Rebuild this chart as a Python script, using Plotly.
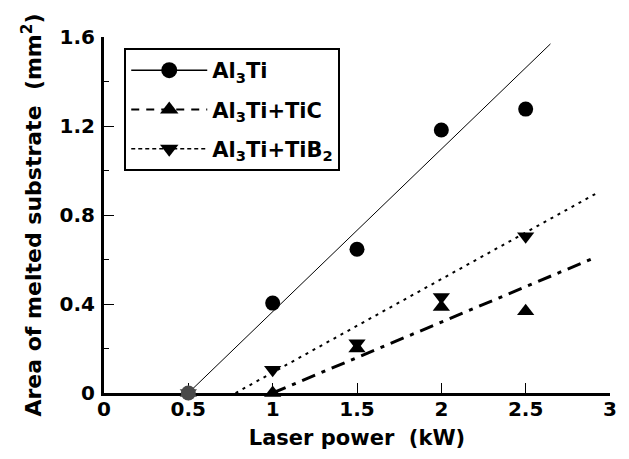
import plotly.graph_objects as go

# ---- data ----
power = [0.5, 1.0, 1.5, 2.0, 2.5]                 # kW
al3ti = [0.0, 0.404, 0.646, 1.182, 1.276]         # mm^2
al3ti_tic = [0.0, 0.0, 0.20, 0.387, 0.367]
al3ti_tib2 = [0.0, 0.105, 0.224, 0.431, 0.705]

# fitted trend lines (end points)
fit_al3ti_x = [0.5, 2.647]
fit_al3ti_y = [0.0, 1.569]
fit_tic_x = [1.0, 2.921]
fit_tic_y = [0.0, 0.612]
fit_tib2_x = [0.78, 2.921]
fit_tib2_y = [0.0, 0.898]

names = ["Al<sub>3</sub>Ti", "Al<sub>3</sub>Ti+TiC", "Al<sub>3</sub>Ti+TiB<sub>2</sub>"]
x_ticks = [0, 0.5, 1, 1.5, 2, 2.5, 3]
y_ticks = [0, 0.4, 0.8, 1.2, 1.6]

FONT = "DejaVu Sans"
fig = go.Figure()

first_gray = ["#4a4a4a", "black", "black", "black", "black"]

# fit lines
fig.add_trace(go.Scatter(x=fit_al3ti_x, y=fit_al3ti_y, mode="lines",
                         line=dict(color="black", width=1), showlegend=False, cliponaxis=False))
fig.add_trace(go.Scatter(x=fit_tic_x, y=fit_tic_y, mode="lines",
                         line=dict(color="black", width=3, dash="14px,7px,4px,7px"),
                         showlegend=False, cliponaxis=False))
fig.add_trace(go.Scatter(x=fit_tib2_x, y=fit_tib2_y, mode="lines",
                         line=dict(color="black", width=2, dash="3px,5px"),
                         showlegend=False, cliponaxis=False))

# data markers
fig.add_trace(go.Scatter(x=power, y=al3ti, mode="markers", showlegend=False, cliponaxis=False,
                         marker=dict(symbol="circle", size=15, color=first_gray)))
fig.add_trace(go.Scatter(x=power, y=al3ti_tic, mode="markers", showlegend=False, cliponaxis=False,
                         marker=dict(symbol="triangle-up", size=15, color=first_gray)))
fig.add_trace(go.Scatter(x=power, y=al3ti_tib2, mode="markers", showlegend=False, cliponaxis=False,
                         marker=dict(symbol="triangle-down", size=15, color=first_gray)))

# legend entries
fig.add_trace(go.Scatter(x=[None], y=[None], mode="lines+markers", name=names[0], legendgroup="a",
                         line=dict(color="black", width=1.5),
                         marker=dict(symbol="circle", size=16, color="black")))
fig.add_trace(go.Scatter(x=[None], y=[None], mode="lines+markers", name=names[1], legendgroup="b",
                         line=dict(color="black", width=2, dash="8px,7px"),
                         marker=dict(symbol="triangle-up", size=16, color="black")))
fig.add_trace(go.Scatter(x=[None], y=[None], mode="lines+markers", name=names[2], legendgroup="c",
                         line=dict(color="black", width=1.5, dash="4px,3px"),
                         marker=dict(symbol="triangle-down", size=16, color="black")))

axis_font = dict(family=FONT, size=20, color="black", weight="bold")

# the page body adds an 8px offset; figure sized to fill the window from there
fig.update_layout(
    width=621, height=451,
    margin=dict(l=96, r=15, t=29, b=62),
    paper_bgcolor="white", plot_bgcolor="white",
    font=dict(family=FONT, color="black"),
    showlegend=True,
    legend=dict(x=0.04, y=0.969, xanchor="left", yanchor="top",
                bgcolor="white", bordercolor="black", borderwidth=2,
                font=dict(family=FONT, size=21, color="black", weight="bold"),
                tracegroupgap=9, itemwidth=76),
    xaxis=dict(range=[0, 3], tickvals=x_ticks, ticks="inside", ticklen=10, tickwidth=1,
               tickcolor="black", showline=True, linecolor="black", linewidth=3,
               showgrid=False, zeroline=False, layer="below traces",
               tickfont=axis_font, ticklabelstandoff=-4,
               title=dict(text="Laser power  (kW)", font=dict(family=FONT, size=21, color="black", weight="bold"),
                          standoff=11)),
    yaxis=dict(range=[0, 1.6], tickvals=y_ticks, ticks="inside", ticklen=10, tickwidth=1,
               tickcolor="black", showline=True, linecolor="black", linewidth=3,
               showgrid=False, zeroline=False, layer="below traces",
               minor=dict(dtick=0.2, ticks="inside", ticklen=5, tickcolor="black", tickwidth=1),
               tickfont=axis_font, ticklabelstandoff=2,
               title=dict(text="Area of melted substrate  (mm<sup>2</sup>)",
                          font=dict(family=FONT, size=22, color="black", weight="bold"), standoff=12)),
)

fig.write_html("out.html")
